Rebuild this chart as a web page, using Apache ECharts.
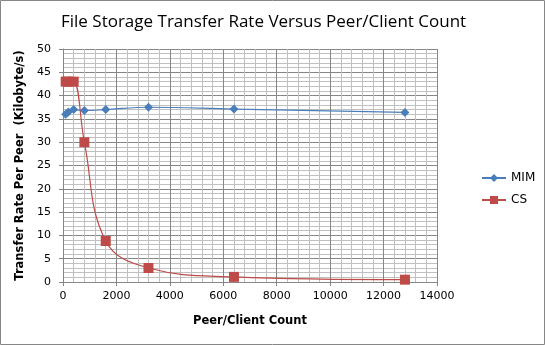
<!DOCTYPE html>
<html><head><meta charset="utf-8">
<script src="https://cdn.jsdelivr.net/npm/echarts@6/dist/echarts.min.js"></script>
<style>html,body{margin:0;padding:0;background:#fff}#c{width:545px;height:345px}</style>
</head><body><div id="c"></div>
<script>
const peerCounts = [100, 200, 400, 800, 1600, 3200, 6400, 12800];
const mimValues = [36.0, 36.5, 37.0, 36.8, 37.0, 37.5, 37.1, 36.4];
const csValues = [43.0, 43.0, 43.0, 30.0, 8.8, 3.0, 1.1, 0.5];
const titleText = 'File Storage Transfer Rate Versus Peer/Client Count';
const xName = 'Peer/Client Count';
const yName = 'Transfer Rate Per Peer  (Kilobyte/s)';

const chart = echarts.init(document.getElementById('c'));
const pairs = (xs, ys) => xs.map((x, i) => [x, ys[i]]);
chart.setOption({
  animation: false,
  title: {text: titleText, left: 56, top: 9,
    textStyle: {fontFamily: 'Open Sans', fontSize: 17, fontWeight: 'normal', color: '#000'}},
  graphic: [{type: 'rect', shape: {x: 0.5, y: 0.5, width: 544, height: 344},
    style: {fill: 'none', stroke: '#868686', lineWidth: 1}, silent: true}],
  grid: {left: 63, top: 49, width: 374, height: 233, containLabel: false},
  legend: {orient: 'vertical', left: 476, top: 167, itemGap: 10, itemWidth: 24, itemHeight: 10,
    textStyle: {fontFamily: 'DejaVu Sans', fontSize: 12, color: '#000'},
    data: ['MIM', 'CS']},
  xAxis: {type: 'value', min: 0, max: 14000, interval: 2000,
    name: xName, nameLocation: 'middle', nameGap: 33,
    nameTextStyle: {fontFamily: 'DejaVu Sans', fontSize: 11.5, fontWeight: 'bold', color: '#000'},
    axisLine: {show: true, lineStyle: {color: '#868686'}},
    axisTick: {show: true, length: 4, lineStyle: {color: '#868686'}},
    axisLabel: {fontFamily: 'DejaVu Sans', fontSize: 11, color: '#000', margin: 9,
      formatter: v => String(v)},
    splitLine: {show: true, lineStyle: {color: '#868686', width: 1}},
    minorTick: {show: false, splitNumber: 5},
    minorSplitLine: {show: true, lineStyle: {color: '#c0c0c0', width: 1}}},
  yAxis: {type: 'value', min: 0, max: 50, interval: 5,
    name: yName, nameLocation: 'middle', nameGap: 34, nameRotate: 90,
    nameTextStyle: {fontFamily: 'DejaVu Sans', fontSize: 11.5, fontWeight: 'bold', color: '#000'},
    axisLine: {show: true, lineStyle: {color: '#868686'}},
    axisTick: {show: true, length: 4, lineStyle: {color: '#868686'}},
    axisLabel: {fontFamily: 'DejaVu Sans', fontSize: 11, color: '#000', margin: 12},
    splitLine: {show: true, lineStyle: {color: '#868686', width: 1}},
    minorTick: {show: false, splitNumber: 5},
    minorSplitLine: {show: true, lineStyle: {color: '#c0c0c0', width: 1}}},
  series: [
    {name: 'MIM', type: 'line', smooth: 0.4, data: pairs(peerCounts, mimValues),
      symbol: 'diamond', symbolSize: 9, showAllSymbol: true,
      itemStyle: {color: '#4A7EBB'}, lineStyle: {color: '#4A7EBB', width: 1.2}},
    {name: 'CS', type: 'line', smooth: 0.4, data: pairs(peerCounts, csValues),
      symbol: 'rect', symbolSize: 10, showAllSymbol: true,
      itemStyle: {color: '#BE4B48'}, lineStyle: {color: '#BE4B48', width: 1.2}}
  ]
});
</script></body></html>
